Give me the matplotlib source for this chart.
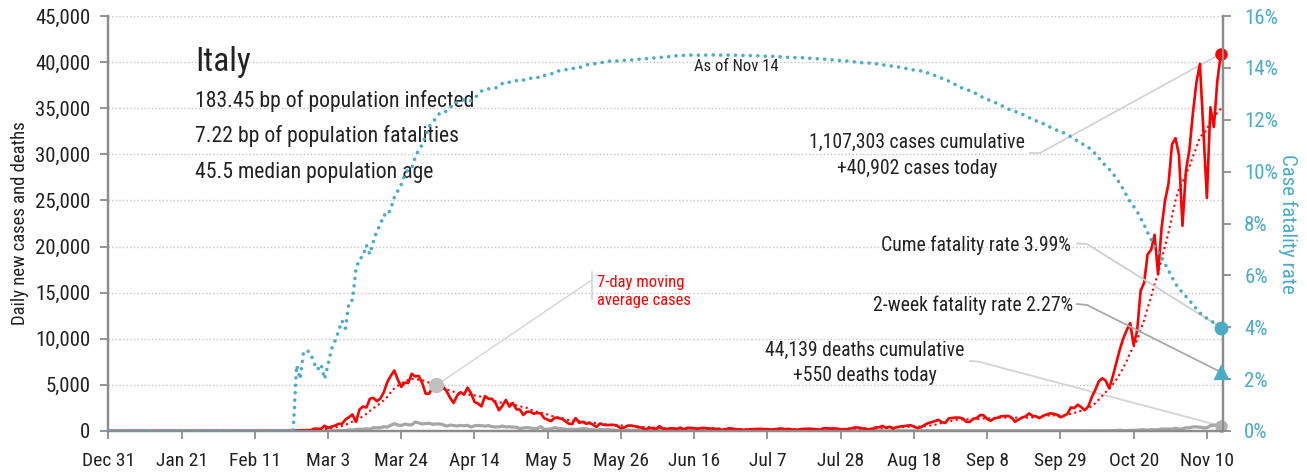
import matplotlib
matplotlib.use("Agg")
import matplotlib.pyplot as plt
import matplotlib.dates as mdates
from matplotlib import font_manager as fm
import numpy as np
import pandas as pd

# ---------------- DATA ----------------
# Daily new cases (chart dates start 2020-02-22), by month
cases_feb = [20, 59, 71, 79, 93, 78, 250, 238, 240]
cases_mar = [566, 342, 466, 587, 769, 778, 1247, 1492, 1797, 977, 2313, 2651, 2547, 3497, 3590,
             3233, 3526, 4207, 5322, 5986, 6557, 5560, 4789, 5249, 5210, 6203, 5909, 5974, 5217,
             4050, 4053]
cases_apr = [4782, 4668, 4585, 4805, 4316, 3599, 3039, 3836, 4204, 3951, 4694, 4092, 3153, 2972,
             2667, 3786, 3493, 3491, 3047, 2256, 2729, 3370, 2646, 3021, 2357, 2324, 1739, 2091,
             2086, 1872]
cases_may = [1965, 1900, 1389, 1221, 1075, 1444, 1401, 1327, 1083, 802, 744, 1402, 888, 992, 789,
             875, 675, 451, 813, 665, 642, 652, 669, 531, 300, 397, 584, 593, 516, 416, 355]
cases_jun = [178, 318, 321, 177, 518, 270, 197, 280, 283, 202, 379, 163, 346, 338, 301, 210, 329,
             333, 251, 262, 224, 218, 122, 190, 296, 259, 175, 174, 126, 142]
cases_jul = [187, 201, 223, 235, 192, 208, 138, 193, 229, 276, 188, 234, 169, 114, 162, 230, 233,
             249, 219, 190, 129, 282, 306, 252, 275, 255, 170, 181, 212, 289, 386]
cases_aug = [379, 295, 239, 159, 190, 384, 402, 552, 347, 463, 259, 412, 481, 523, 574, 629, 479,
             320, 403, 642, 845, 947, 1071, 1210, 953, 878, 1367, 1411, 1460, 1444, 1365]
cases_sep = [996, 975, 1326, 1397, 1733, 1695, 1297, 1108, 1370, 1434, 1597, 1616, 1638, 1458,
             1008, 1229, 1452, 1585, 1907, 1638, 1587, 1392, 1640, 1786, 1912, 1869, 1766, 1494,
             1648, 1851]
cases_oct = [2548, 2499, 2844, 2578, 2257, 2677, 3678, 4458, 5372, 5724, 5456, 4619, 5901, 7332,
             8804, 10010, 10925, 11705, 9338, 10874, 15199, 16079, 19143, 19644, 21273, 17012,
             21994, 24991, 26831, 31084, 31758]
cases_nov = [29907, 22253, 28244, 30550, 34505, 37809, 39811, 32616, 25271, 35098, 32961, 37978,
             40902]

# Daily deaths (same dates)
deaths_feb = [0, 2, 1, 4, 3, 2, 5, 4, 8]
deaths_mar = [5, 18, 27, 28, 41, 49, 36, 133, 97, 168, 196, 189, 250, 175, 368, 349, 345, 475, 427,
              627, 793, 651, 601, 743, 683, 662, 969, 889, 756, 812, 837]
deaths_apr = [727, 760, 766, 681, 525, 636, 604, 542, 610, 570, 619, 431, 566, 602, 578, 525, 575,
              482, 433, 454, 534, 437, 464, 420, 415, 260, 333, 382, 323, 285]
deaths_may = [269, 474, 174, 195, 236, 369, 274, 243, 194, 165, 179, 172, 195, 262, 242, 153, 145,
              99, 162, 161, 156, 130, 119, 50, 92, 78, 117, 70, 87, 111, 75]
deaths_jun = [60, 55, 71, 88, 85, 72, 53, 65, 79, 71, 53, 56, 78, 44, 26, 34, 43, 66, 47, 49, 24,
              23, 18, 30, 34, 30, 8, 24, 6, 23]
deaths_jul = [21, 30, 15, 21, 7, 8, 30, 15, 12, 12, 7, 9, 13, 13, 17, 20, 11, 12, 3, 13, 15, 9, 10,
              5, 5, 5, 5, 11, 11, 3, 9]
deaths_aug = [12, 8, 5, 12, 10, 16, 11, 13, 12, 4, 6, 10, 12, 13, 4, 10, 7, 7, 5, 6, 9, 13, 7, 4, 7,
              13, 4, 9, 1, 4, 9]
deaths_sep = [6, 8, 10, 10, 11, 7, 14, 14, 10, 9, 10, 10, 7, 14, 9, 20, 10, 10, 24, 14, 13, 20, 17,
              23, 10, 24, 17, 15, 24, 17]
deaths_oct = [24, 23, 27, 18, 16, 28, 31, 22, 28, 29, 26, 39, 41, 43, 83, 55, 47, 69, 73, 89, 127,
              136, 91, 151, 128, 141, 221, 205, 217, 199, 297]
deaths_nov = [208, 233, 353, 352, 445, 446, 425, 331, 356, 580, 623, 636, 550]

cum_cases_label = 1107303
cum_deaths_label = 44139
cume_cfr_label = 3.99        # %
two_week_cfr = 2.27          # %
x_tick_labels = ["Dec 31", "Jan 21", "Feb 11", "Mar 3", "Mar 24", "Apr 14", "May 5", "May 26",
                 "Jun 16", "Jul 7", "Jul 28", "Aug 18", "Sep 8", "Sep 29", "Oct 20", "Nov 10"]
left_ticks = [0, 5000, 10000, 15000, 20000, 25000, 30000, 35000, 40000, 45000]
right_ticks = [0, 2, 4, 6, 8, 10, 12, 14, 16]

country = "Italy"
info_lines = ["183.45 bp of population infected", "7.22 bp of population fatalities",
              "45.5 median population age"]

# ---------------- BUILD SERIES ----------------
start = pd.Timestamp("2019-12-31")
first = pd.Timestamp("2020-02-22")
cases_obs = (cases_feb + cases_mar + cases_apr + cases_may + cases_jun + cases_jul + cases_aug
             + cases_sep + cases_oct + cases_nov)
deaths_obs = (deaths_feb + deaths_mar + deaths_apr + deaths_may + deaths_jun + deaths_jul
              + deaths_aug + deaths_sep + deaths_oct + deaths_nov)
pre = pd.date_range(start, first - pd.Timedelta(days=1))
obs = pd.date_range(first, periods=len(cases_obs))
dates = pre.append(obs)
cases = pd.Series(np.r_[np.zeros(len(pre)), cases_obs], index=dates)
deaths = pd.Series(np.r_[np.zeros(len(pre)), deaths_obs], index=dates)
ma7 = cases.rolling(7, min_periods=1).mean()
cum_c = cases.cumsum()
cum_d = deaths.cumsum()
cfr = (cum_d / cum_c.replace(0, np.nan) * 100).fillna(0)

# ---------------- FONT ----------------
names = {f.name for f in fm.fontManager.ttflist}
FONT = "DejaVu Sans"
for cand in ["Roboto Condensed", "Liberation Sans Narrow", "Open Sans Condensed", "Noto Sans Condensed"]:
    if cand in names:
        FONT = cand
        break
plt.rcParams["font.family"] = [FONT, "DejaVu Sans"]

RED = "#ff0000"
BLUE = "#4bacc6"
GRAY = "#a6a6a6"
TXT = "#222222"
SPINE = "#8c8c8c"

fig = plt.figure(figsize=(13.07, 4.72), dpi=100)
ax = fig.add_axes([108.3 / 1307, 1 - 431 / 472, 1115 / 1307, 415 / 472])
ax2 = ax.twinx()

# grid
for v in left_ticks:
    ax.axhline(v, color="#c4c4c4", lw=1.0, ls=(0, (1, 1.6)), zorder=0)

ax.plot(dates, deaths.values, color=GRAY, lw=2.3, zorder=2, solid_joinstyle="round")
ax.plot(dates, ma7.values, color=RED, lw=1.5, ls=(0, (1, 1.6)), zorder=3)
ax.plot(dates, cases.values, color=RED, lw=1.9, zorder=4, solid_joinstyle="round")
ax2.plot(dates, cfr.values, color=BLUE, lw=2.6, ls=(0, (0.01, 2.05)), dash_capstyle="round", zorder=3)

xmax = dates[-1] + pd.Timedelta(hours=17)
ax.set_xlim(start, xmax)
ax.set_ylim(0, 45000)
ax2.set_ylim(0, 16)

tick_dates = [start + pd.Timedelta(days=21 * i) for i in range(len(x_tick_labels))]
ax.set_xticks(tick_dates)
ax.set_xticklabels(x_tick_labels)
ax.set_yticks(left_ticks)
ax.set_yticklabels([f"{v:,}" for v in left_ticks])
ax2.set_yticks(right_ticks)
ax2.set_yticklabels([f"{v}%" for v in right_ticks])

for a in (ax, ax2):
    a.spines["top"].set_visible(False)
    for s in ("left", "right", "bottom"):
        a.spines[s].set_color(SPINE)
        a.spines[s].set_linewidth(1.6)
ax.tick_params(axis="x", colors=SPINE, length=6, width=1.3, labelcolor=TXT, labelsize=14, pad=9)
ax.tick_params(axis="y", colors=SPINE, length=6, width=1.3, labelcolor=TXT, labelsize=15, pad=7)
ax2.tick_params(axis="y", colors=SPINE, length=6, width=1.3, labelcolor=BLUE, labelsize=15, pad=9)

ax.set_ylabel("Daily new cases and deaths", fontsize=13.5, color=TXT, labelpad=4)
ax2.set_ylabel("Case fatality rate", fontsize=15, color=BLUE, rotation=270, labelpad=14)

# markers at end
last = dates[-1]
ax.plot([last], [cases.iloc[-1]], "o", color=RED, ms=8, zorder=6, clip_on=False)
ax.plot([last], [deaths.iloc[-1]], "o", color="#b0b0b0", ms=8, zorder=6, clip_on=False)
ax2.plot([last], [cfr.iloc[-1]], "o", color=BLUE, ms=9, zorder=6, clip_on=False)
ax2.plot([last], [two_week_cfr], "^", color=BLUE, ms=10, zorder=6, clip_on=False)
ma_mark_date = pd.Timestamp("2020-04-03")
ax.plot([ma_mark_date], [ma7[ma_mark_date]], "o", color="#c0c0c0", ms=10, zorder=6)

# texts
tr = ax.transAxes
ax.text(0.078, 0.889, country, transform=tr, fontsize=24, color=TXT, va="center", ha="left")
for line, fyv in zip(info_lines, [0.795, 0.711, 0.624]):
    ax.text(0.078, fyv, line, transform=tr, fontsize=15.7, color=TXT, va="center", ha="left")
ax.text(0.5636, 0.878, "As of Nov 14", transform=tr, fontsize=12, color=TXT, va="center", ha="center")

def ax_frac_to_data(a, fx, fy):
    p = a.transAxes.transform((fx, fy))
    return a.transData.inverted().transform(p)

def connector(a, pts_frac, end_data, color, lw=1.3):
    pts = [ax_frac_to_data(a, fx, fy) for fx, fy in pts_frac]
    xs = [p[0] for p in pts] + [mdates.date2num(end_data[0])]
    ys = [p[1] for p in pts] + [end_data[1]]
    a.plot(xs, ys, color=color, lw=lw, zorder=1, clip_on=False)

def fx(px):
    return (px - 108.3) / 1115
def fy(py):
    return (431 - py) / 415

ANN = 14.2
# cases annotation
ax.text(fx(917), fy(155.5),
        f"{cum_cases_label:,} cases cumulative\n+{int(cases.iloc[-1]):,} cases today",
        transform=tr, fontsize=ANN, color=TXT, ha="center", va="center", linespacing=1.45)
connector(ax, [(fx(1030), fy(153)), (fx(1040), fy(153))], (last, cases.iloc[-1]), "#d4d4d4")

ax2.text(fx(1071), fy(245), f"Cume fatality rate {cume_cfr_label:.2f}%", transform=tr,
         fontsize=ANN, color=TXT, ha="right", va="center")
connector(ax2, [(fx(1077), fy(243.5)), (fx(1087), fy(244))], (last, cfr.iloc[-1]), "#cfcfcf")

ax2.text(fx(1073), fy(305), f"2-week fatality rate {two_week_cfr:.2f}%", transform=tr,
         fontsize=ANN, color=TXT, ha="right", va="center")
connector(ax2, [(fx(1077), fy(304)), (fx(1087), fy(305))], (last, two_week_cfr), "#a9a9a9")

ax.text(fx(865), fy(363),
        f"{cum_deaths_label:,} deaths cumulative\n+{int(deaths.iloc[-1]):,} deaths today",
        transform=tr, fontsize=ANN, color=TXT, ha="center", va="center", linespacing=1.45)
connector(ax, [(fx(970), fy(361)), (fx(978), fy(361.5))], (last, deaths.iloc[-1]), "#d4d4d4")

ax.text(fx(597), fy(291), "7-day moving\naverage cases", transform=tr, fontsize=12, color=RED,
        ha="left", va="center", linespacing=1.25)
connector(ax, [(fx(591.7), fy(280))], (ma_mark_date, ma7[ma_mark_date]), "#d4d4d4", lw=1.0)
p1 = ax_frac_to_data(ax, fx(591.7), fy(271.7))
p2 = ax_frac_to_data(ax, fx(591.7), fy(299.3))
ax.plot([p1[0], p2[0]], [p1[1], p2[1]], color="#d4d4d4", lw=1.2, zorder=1)

fig.savefig("out.png", dpi=100)
